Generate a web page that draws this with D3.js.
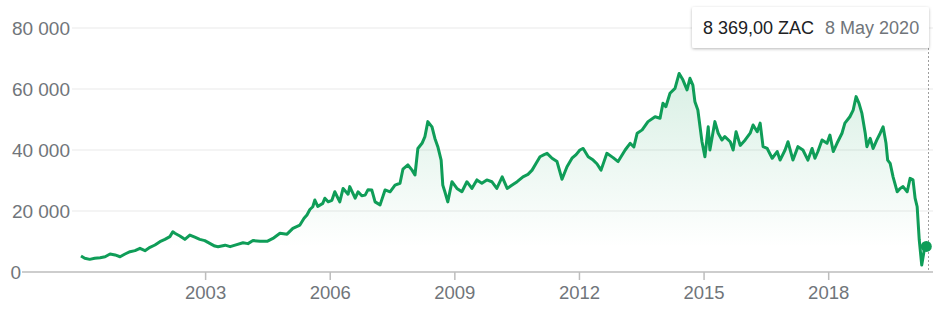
<html>
<head>
    <script src="https://cdn.jsdelivr.net/npm/d3@7"></script>
    <style>
        body { margin: 0; background: #fff; }
        text { font-family: Arial, "Liberation Sans", sans-serif; }
    </style>
</head>

<body>
    <script type="text/javascript">
        var width = 939;
        var height = 314;

        // Decimal years
        var years = [
            2000.00, 2000.09, 2000.21, 2000.33, 2000.46, 2000.58, 2000.70, 2000.82, 2000.94,
            2001.06, 2001.18, 2001.30, 2001.42, 2001.54, 2001.66, 2001.78, 2001.90,
            2002.02, 2002.14, 2002.21, 2002.26, 2002.38, 2002.50, 2002.62, 2002.74, 2002.86, 2002.98,
            2003.10, 2003.22, 2003.30, 2003.47, 2003.59, 2003.73, 2003.90,
            2004.02, 2004.14, 2004.31, 2004.48, 2004.62, 2004.79, 2004.96,
            2005.10, 2005.27, 2005.37, 2005.44, 2005.51, 2005.58, 2005.63, 2005.70, 2005.82, 2005.87, 2005.95,
            2006.04, 2006.11, 2006.23, 2006.31, 2006.43, 2006.47, 2006.60, 2006.67, 2006.76, 2006.84, 2006.91,
            2007.00, 2007.08, 2007.20, 2007.32, 2007.44, 2007.56, 2007.68, 2007.75, 2007.87, 2007.97,
            2008.04, 2008.11, 2008.21, 2008.28, 2008.35, 2008.45, 2008.52, 2008.59, 2008.67, 2008.71, 2008.76, 2008.83, 2008.93,
            2009.05, 2009.17, 2009.29, 2009.41, 2009.53, 2009.65, 2009.77, 2009.89,
            2010.01, 2010.14, 2010.26, 2010.38, 2010.50, 2010.64, 2010.76, 2010.86, 2010.95,
            2011.05, 2011.15, 2011.22, 2011.34, 2011.46, 2011.58, 2011.70, 2011.82, 2011.92,
            2012.01, 2012.09, 2012.21, 2012.33, 2012.42, 2012.52, 2012.66, 2012.81, 2012.93,
            2013.10, 2013.22, 2013.31, 2013.39, 2013.51, 2013.65, 2013.82, 2013.94,
            2014.01, 2014.08, 2014.18, 2014.30, 2014.40, 2014.49, 2014.59, 2014.66, 2014.73, 2014.78, 2014.85, 2014.95,
            2015.02, 2015.10, 2015.14, 2015.26, 2015.34, 2015.43, 2015.50, 2015.63, 2015.70, 2015.77, 2015.87, 2015.99,
            2016.11, 2016.18, 2016.28, 2016.35, 2016.42, 2016.52, 2016.64, 2016.76, 2016.83, 2016.95,
            2017.02, 2017.14, 2017.26, 2017.38, 2017.50, 2017.60, 2017.67, 2017.74, 2017.84, 2017.96,
            2018.03, 2018.11, 2018.20, 2018.32, 2018.39, 2018.51, 2018.59, 2018.66, 2018.73, 2018.80, 2018.88, 2018.92,
            2019.00, 2019.07, 2019.16, 2019.24, 2019.31, 2019.38, 2019.42, 2019.48, 2019.55, 2019.65, 2019.72, 2019.79, 2019.89, 2019.96,
            2020.03, 2020.08, 2020.13, 2020.18, 2020.24, 2020.30, 2020.35
        ];

        // Share price in ZAC (cents)
        var prices = [
            5250, 4500, 4150, 4500, 4700, 5000, 5900, 5600, 5000,
            5900, 6650, 7000, 7750, 7000, 8100, 8850, 9950,
            10700, 11600, 13200, 12700, 11800, 10700, 12100, 11400, 10700, 10300,
            9400, 8500, 8300, 8800, 8300, 8900, 9600,
            9300, 10300, 10100, 10050, 11000, 12700, 12400,
            14300, 15400, 17600, 18700, 20500, 21400, 23600, 21500, 22500, 24200, 23000,
            23500, 26300, 23000, 27400, 25500, 28000, 24200, 26300, 25000, 25200, 27000,
            26900, 23000, 22000, 26900, 26300, 28500, 29100, 33700, 35100, 33400,
            31800, 40500, 42200, 44400, 49300, 47600, 43800, 41100, 36700, 28500, 26300, 23000, 29600,
            27400, 26300, 29600, 27400, 30200, 29100, 30200, 29600,
            27400, 31200, 27400, 28500, 29600, 31200, 32000, 33400, 35500,
            37800, 38500, 38900, 37300, 36200, 30400, 34500, 37300, 38500,
            40000, 40500, 37800, 36700, 35500, 33400, 38900, 37500, 36200,
            40000, 42200, 41000, 45500, 46600, 49300, 50900, 50400,
            55300, 54200, 58600, 60200, 65100, 63000, 59700, 63500, 61300, 55800, 53100, 42700,
            37800, 47600, 40000, 49300, 45500, 43300, 44400, 42700, 40000, 46000, 41500, 43300,
            45500, 48200, 46000, 48800, 41100, 40500, 37300, 39500, 36700, 40000,
            42700, 36700, 41100, 40000, 36700, 40500, 37300, 39500, 43300, 42200,
            44900, 39500, 42200, 45500, 48800, 50900, 53100, 57500, 55300, 52000, 45500, 41100,
            43800, 40500, 43300, 45500, 47600, 42200, 36700, 35600, 31200, 26300, 27400, 28000, 26300, 30700,
            30200, 24200, 21400, 10500, 2300, 7200, 8369
        ];

        var yTicks = [0, 20000, 40000, 60000, 80000];
        var xTicks = [2003, 2006, 2009, 2012, 2015, 2018];

        var lastPrice = "8 369,00 ZAC";
        var lastDate = "8 May 2020";

        var data = years.map((y, i) => ({ year: y, price: prices[i] }));

        var green = "#0f9d58";

        var xScale = d3.scaleLinear()
            .domain([2000, 2020.35])
            .range([81, 926.3]);

        var yScale = d3.scaleLinear()
            .domain([0, 80000])
            .range([272, 28]);

        const svg = d3.select("body").append("svg")
            .attr("width", width)
            .attr("height", height);

        var defs = svg.append("defs");

        var grad = defs.append("linearGradient")
            .attr("id", "areaFill")
            .attr("gradientUnits", "userSpaceOnUse")
            .attr("x1", 0).attr("x2", 0)
            .attr("y1", yScale(65000)).attr("y2", yScale(8000));
        grad.append("stop").attr("offset", 0).attr("stop-color", green).attr("stop-opacity", 0.16);
        grad.append("stop").attr("offset", 1).attr("stop-color", green).attr("stop-opacity", 0);

        var shadow = defs.append("filter")
            .attr("id", "shadow")
            .attr("x", "-10%").attr("y", "-30%")
            .attr("width", "120%").attr("height", "170%");
        shadow.append("feDropShadow")
            .attr("dx", 0).attr("dy", 1)
            .attr("stdDeviation", 1.5)
            .attr("flood-color", "#000")
            .attr("flood-opacity", 0.28);

        // Gridlines
        svg.append("g")
            .selectAll("line")
            .data(yTicks.filter(d => d > 0))
            .join("line")
                .attr("x1", 72)
                .attr("x2", 933)
                .attr("y1", d => yScale(d))
                .attr("y2", d => yScale(d))
                .attr("stroke", "#f1f1f1")
                .attr("stroke-width", 1.5);

        // Y labels
        svg.append("g")
            .selectAll("text")
            .data(yTicks)
            .join("text")
                .attr("x", d => d === 0 ? 21 : 70)
                .attr("y", d => yScale(d))
                .attr("dy", "0.36em")
                .attr("text-anchor", "end")
                .attr("fill", "#70757a")
                .style("font-size", "19px")
                .text(d => d3.format(",")(d).replace(/,/g, " "));

        // Area and line
        svg.append("path")
            .datum(data)
            .attr("fill", "url(#areaFill)")
            .attr("d", d3.area()
                .x(d => xScale(d.year))
                .y0(yScale(0))
                .y1(d => yScale(d.price)));

        // X axis
        var xAxis = svg.append("g")
            .attr("transform", "translate(0," + yScale(0) + ")");

        xAxis.append("line")
            .attr("x1", 22)
            .attr("x2", 933)
            .attr("stroke", "#bdbdbd")
            .attr("stroke-width", 1.5);

        xAxis.selectAll(".tick")
            .data(xTicks)
            .join("line")
                .attr("class", "tick")
                .attr("x1", d => xScale(d))
                .attr("x2", d => xScale(d))
                .attr("y1", 0)
                .attr("y2", 8)
                .attr("stroke", "#bdbdbd")
                .attr("stroke-width", 1.5);

        xAxis.selectAll(".label")
            .data(xTicks)
            .join("text")
                .attr("class", "label")
                .attr("x", d => xScale(d))
                .attr("y", 27)
                .attr("text-anchor", "middle")
                .attr("fill", "#70757a")
                .style("font-size", "18.5px")
                .text(d => d);

        svg.append("path")
            .datum(data)
            .attr("fill", "none")
            .attr("stroke", green)
            .attr("stroke-width", 3)
            .attr("stroke-linejoin", "round")
            .attr("d", d3.line()
                .x(d => xScale(d.year))
                .y(d => yScale(d.price)));

        // Hover marker at the last point
        var last = data[data.length - 1];

        svg.append("line")
            .attr("x1", 928.5)
            .attr("x2", 928.5)
            .attr("y1", 48)
            .attr("y2", yScale(0))
            .attr("stroke", "#9e9e9e")
            .attr("stroke-width", 1)
            .attr("stroke-dasharray", "2,2");

        svg.append("circle")
            .attr("cx", xScale(last.year))
            .attr("cy", yScale(last.price))
            .attr("r", 5.5)
            .attr("fill", green);

        // Tooltip
        var tip = svg.append("g");

        tip.append("rect")
            .attr("x", 692)
            .attr("y", 7)
            .attr("width", 237)
            .attr("height", 41)
            .attr("rx", 2)
            .attr("fill", "#fff")
            .attr("filter", "url(#shadow)");

        var tipText = tip.append("text")
            .attr("x", 703)
            .attr("y", 33.5)
            .style("font-size", "18px");

        tipText.append("tspan")
            .attr("fill", "#202124")
            .text(lastPrice);

        tipText.append("tspan")
            .attr("dx", 11)
            .attr("fill", "#70757a")
            .text(lastDate);
    </script>
</body>
</html>
